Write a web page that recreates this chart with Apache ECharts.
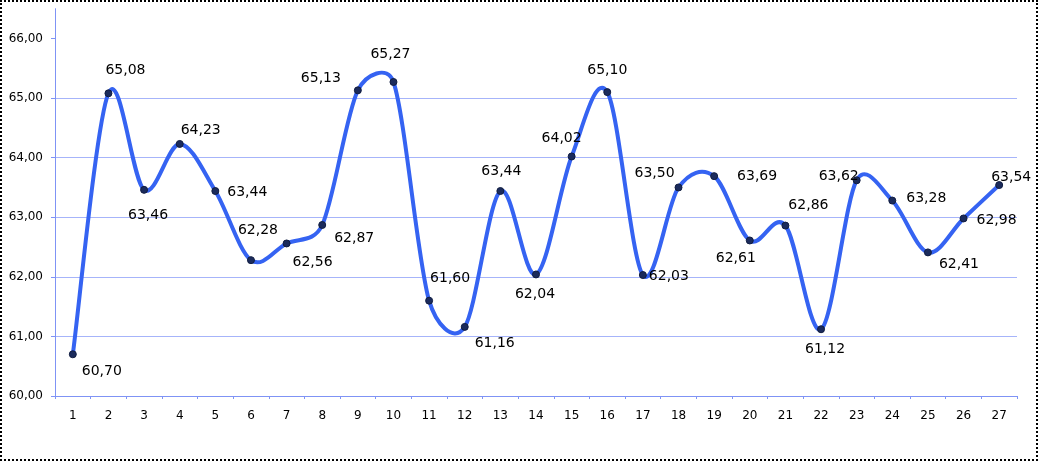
<!DOCTYPE html>
<html>
<head>
<meta charset="utf-8">
<script src="https://cdn.jsdelivr.net/npm/echarts@6/dist/echarts.min.js"></script>
<style>
  html, body { margin: 0; padding: 0; background: #fff; }
  #frame { position: absolute; left: 0; top: 0; width: 1034px; height: 457px; border: 2px dotted #000; }
  #chart { position: absolute; left: 0; top: 0; width: 1039px; height: 462px; }
</style>
</head>
<body>
<div id="frame"></div>
<div id="chart"></div>
<script>
const categories = ['1','2','3','4','5','6','7','8','9','10','11','12','13','14','15','16','17','18','19','20','21','22','23','24','25','26','27'];
const values = [60.70, 65.08, 63.46, 64.23, 63.44, 62.28, 62.56, 62.87, 65.13, 65.27, 61.60, 61.16, 63.44, 62.04, 64.02, 65.10, 62.03, 63.50, 63.69, 62.61, 62.86, 61.12, 63.62, 63.28, 62.41, 62.98, 63.54];
const yTicks = [60, 61, 62, 63, 64, 65, 66];

// label placement (layout only): offset of each data label from its point, in px
const labelOffsets = [
  [29, 17], [17, -23], [4, 26], [21, -14], [32, 1], [7, -30], [26, 19], [32, 13],
  [-37, -12], [-3, -28], [21, -22], [30, 16], [1, -20], [-1, 20], [-10, -18], [0, -22],
  [26, 1], [-24, -14], [43, 0], [-14, 18], [23, -20], [4, 20], [-18, -4], [34, -2],
  [31, 12], [33, 2], [12, -8]
];

const fmt = v => v.toFixed(2).replace('.', ',');
const axisBlue = '#7f93f5';
const lineBlue = '#3563f2';

// Excel-like smoothed segment (Bezier, arm length 1/6 of neighbour chord, limited to half the segment)
function segment(params, api) {
  const i = params.dataIndex;
  const n = values.length;
  if (i >= n - 1) return null;
  const P = j => api.coord([Math.max(0, Math.min(n - 1, j)), values[Math.max(0, Math.min(n - 1, j))]]);
  const p0 = P(i - 1), p1 = P(i), p2 = P(i + 1), p3 = P(i + 2);
  const dist = (a, b) => Math.hypot(b[0] - a[0], b[1] - a[1]);
  const d12 = dist(p1, p2), d02 = dist(p0, p2), d13 = dist(p1, p3);
  const f0 = d02 > 0 ? Math.min(1 / 6, d12 / 2 / d02) : 0;
  const f3 = d13 > 0 ? Math.min(1 / 6, d12 / 2 / d13) : 0;
  const c1 = [p1[0] + (p2[0] - p0[0]) * f0, p1[1] + (p2[1] - p0[1]) * f0];
  const c2 = [p2[0] - (p3[0] - p1[0]) * f3, p2[1] - (p3[1] - p1[1]) * f3];
  return {
    type: 'bezierCurve',
    shape: { x1: p1[0], y1: p1[1], x2: p2[0], y2: p2[1], cpx1: c1[0], cpy1: c1[1], cpx2: c2[0], cpy2: c2[1] },
    style: { stroke: lineBlue, lineWidth: 4, fill: null, lineCap: 'round' },
    silent: true
  };
}

const chart = echarts.init(document.getElementById('chart'), null, { renderer: 'canvas' });
chart.setOption({
  backgroundColor: 'transparent',
  animation: false,
  grid: { left: 55, right: 22, top: 8.7, bottom: 66, containLabel: false },
  xAxis: {
    type: 'category',
    data: categories,
    boundaryGap: true,
    axisLine: { lineStyle: { color: axisBlue, width: 1 } },
    axisTick: { show: true, length: 3, lineStyle: { color: axisBlue } },
    axisLabel: { color: '#000', fontFamily: 'DejaVu Sans', fontSize: 12, margin: 14 }
  },
  yAxis: {
    type: 'value',
    min: 60,
    max: 66.5,
    interval: 1,
    axisLine: { show: true, lineStyle: { color: axisBlue, width: 1 } },
    axisTick: { show: true, length: 4, lineStyle: { color: axisBlue }, customValues: yTicks },
    axisLabel: {
      color: '#000', fontFamily: 'DejaVu Sans', fontSize: 12, margin: 12,
      customValues: yTicks,
      formatter: v => (Number.isInteger(v) ? fmt(v) : '')
    },
    splitLine: {
      show: true, showMaxLine: false,
      lineStyle: { color: '#a6b4fa', width: 1, type: 'solid' }
    }
  },
  series: [
    {
      type: 'custom',
      renderItem: segment,
      data: values.map((v, i) => [i, v]),
      encode: { x: 0, y: 1 },
      z: 2
    },
    {
      type: 'line',
      data: values.map((v, i) => ({
        value: v,
        label: { offset: labelOffsets[i] }
      })),
      lineStyle: { opacity: 0, width: 0 },
      symbol: 'circle',
      symbolSize: 7,
      itemStyle: { color: '#1b2b5c', borderColor: '#101c40', borderWidth: 1 },
      label: {
        show: true,
        position: 'inside',
        color: '#000',
        fontFamily: 'DejaVu Sans',
        fontSize: 14,
        formatter: p => fmt(p.value)
      },
      z: 3
    }
  ]
});
</script>
</body>
</html>
